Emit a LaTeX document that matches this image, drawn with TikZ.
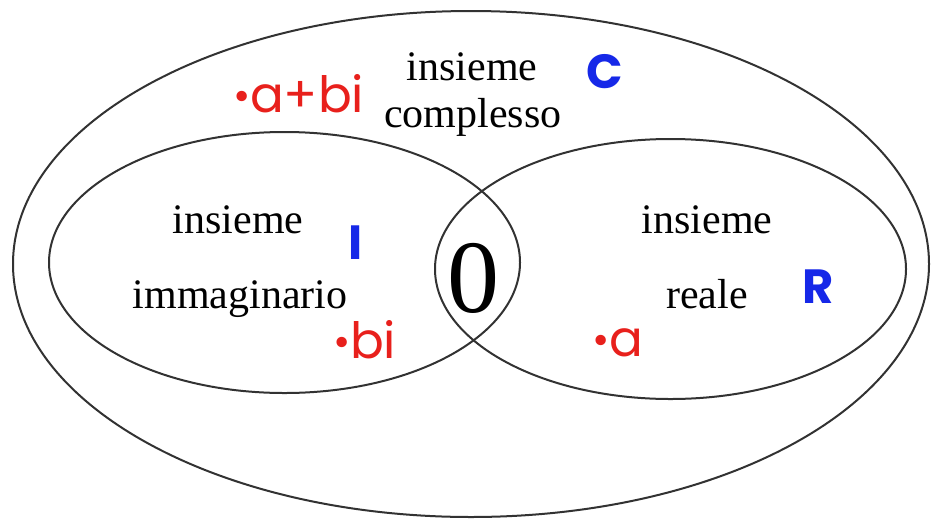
\documentclass[tikz,border=0pt]{standalone}
\usepackage{fontspec}
\setmainfont{Liberation Serif}
\newfontfamily\geo{Poppins}
\definecolor{setred}{RGB}{232,32,28}
\definecolor{setblue}{RGB}{22,40,232}
\definecolor{lineg}{RGB}{50,50,50}
\newcommand{\redbul}{\raisebox{1.5pt}{\fontsize{42}{42}\selectfont\textbullet}\hspace{-1pt}}
\begin{document}
\begin{tikzpicture}[x=1pt,y=-1pt,
  setline/.style={draw=lineg,line width=2pt},
  lbl/.style={anchor=base,inner sep=0pt,font=\fontsize{42}{42}\selectfont,text=black},
  elem/.style={anchor=base,inner sep=0pt,font=\geo\fontsize{50}{50}\selectfont,text=setred},
  setname/.style={anchor=base,inner sep=0pt,font=\geo\bfseries\fontsize{48}{48}\selectfont,text=setblue}]
\useasboundingbox (0,0) rectangle (934,520);
% ellipses
\draw[setline] (471,264) ellipse [x radius=458, y radius=253];
\draw[setline] (284.5,262.5) ellipse [x radius=235.5, y radius=130.5];
\draw[setline] (670.5,269) ellipse [x radius=235.5, y radius=130];
% outer set labels
\node[lbl] (cins) at (472,80) {insieme};
\node[lbl] (ccom) at (473,127) {complesso};
\node[elem] (abi) at (299,112) {\redbul a+bi};
\node[setname] (C) at (605,88) {C};
% imaginary set
\node[lbl] (iins) at (238,233) {insieme};
\node[lbl] (iimm) at (240,308) {immaginario};
\node[setname] (I) at (356,259) {I};
\node[elem] (bi) at (365,358) {\redbul bi};
% zero
\node[anchor=base,inner sep=0pt,font=\fontsize{104}{104}\selectfont] (zero) at (473,312) {0};
% real set
\node[lbl] (rins) at (707,233) {insieme};
\node[lbl] (rrea) at (707,308) {reale};
\node[setname] (R) at (818,303) {R};
\node[elem] (a) at (618,356) {\redbul a};
\end{tikzpicture}
\end{document}
